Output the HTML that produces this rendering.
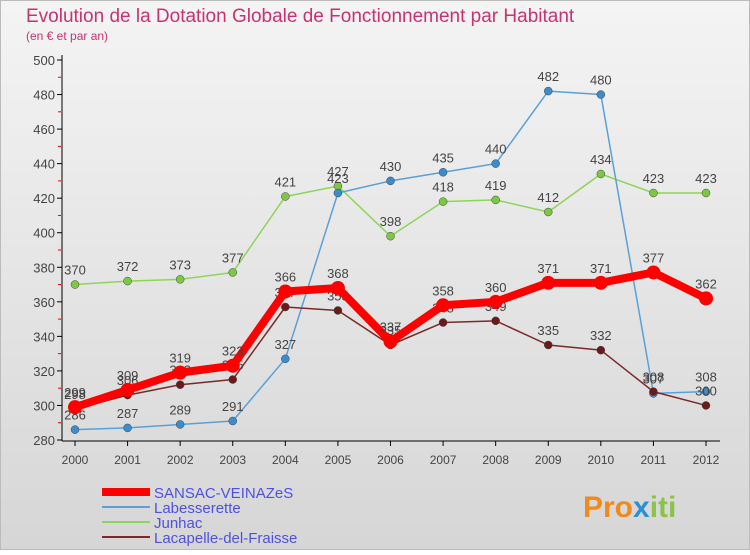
<!DOCTYPE html>
<html><head><meta charset="utf-8"><style>
body{margin:0;width:750px;height:550px;overflow:hidden;font-family:"Liberation Sans",sans-serif}
</style></head><body>
<svg width="750" height="550" xmlns="http://www.w3.org/2000/svg">
<defs><linearGradient id="bg" x1="0" y1="0" x2="0" y2="1"><stop offset="0" stop-color="#f4f4f4"/><stop offset="1" stop-color="#d6d6d6"/></linearGradient></defs>
<rect x="0.5" y="0.5" width="749" height="549" fill="url(#bg)" stroke="#bbb"/>
<text x="26" y="22" font-size="19" fill="#c8336e">Evolution de la Dotation Globale de Fonctionnement par Habitant</text>
<text x="26" y="40" font-size="12" fill="#c8336e">(en € et par an)</text>
<g id="axes"></g><g id="series"></g><g id="legend"></g>
<text x="583" y="517" font-size="30" font-weight="bold" fill="#f08a1c">Pro<tspan fill="#2a8fd6">x</tspan><tspan fill="#8bc34a">iti</tspan></text>
</svg>
<script>
const years=[2000,2001,2002,2003,2004,2005,2006,2007,2008,2009,2010,2011,2012];
const sansac=[299,309,319,323,366,368,337,358,360,371,371,377,362];
const labesserette=[286,287,289,291,327,423,430,435,440,482,480,307,308];
const junhac=[370,372,373,377,421,427,398,418,419,412,434,423,423];
const lacapelle=[298,306,312,315,357,355,335,348,349,335,332,308,300];
const yTicks=[280,300,320,340,360,380,400,420,440,460,480,500];
const NS='http://www.w3.org/2000/svg';
const x=i=>75+i*(706-75)/12;
const y=v=>440-(v-280)*380/220;
function mk(t,a,p){const e=document.createElementNS(NS,t);for(const k in a)e.setAttribute(k,a[k]);p.appendChild(e);return e;}
const ax=document.getElementById('axes');
let l=mk('line',{x1:62,y1:55,x2:62,y2:441,stroke:'#000'},ax);


l=mk('line',{x1:62,y1:441,x2:720,y2:441,stroke:'#000'},ax);


yTicks.forEach((v,i)=>{
  mk('line',{x1:57,y1:y(v),x2:62,y2:y(v),stroke:'#000'},ax);
  if(i<yTicks.length-1) mk('line',{x1:58,y1:y(v+10),x2:61,y2:y(v+10),stroke:'#e00'},ax);
  const t=mk('text',{x:55,y:y(v)+5,'text-anchor':'end','font-size':13,fill:'#444'},ax);t.textContent=v;
  
  
});
years.forEach((yr,i)=>{
  mk('line',{x1:x(i),y1:441,x2:x(i),y2:446,stroke:'#000'},ax);
  const t=mk('text',{x:x(i),y:464,'text-anchor':'middle','font-size':12,fill:'#444'},ax);t.textContent=yr;
  
  
});
const sg=document.getElementById('series');
const defs=[
 {name:'junhac',d:junhac,c:'#8fd45a',f:'#7cc843',w:1.5,r:4},
 {name:'labesserette',d:labesserette,c:'#5aa0d8',f:'#3a8ccc',w:1.5,r:4},
 {name:'lacapelle',d:lacapelle,c:'#7a2a2a',f:'#6b1a1a',w:1.5,r:4},
 {name:'sansac',d:sansac,c:'#f00',f:'#f00',w:8,r:7}];
defs.forEach(s=>{
  const g=mk('g',{},sg);
  
  
  mk('polyline',{points:s.d.map((v,i)=>x(i)+','+y(v)).join(' '),fill:'none',stroke:s.c,'stroke-width':s.w,'stroke-linejoin':'round'},g);
  s.d.forEach((v,i)=>{
    const c=mk('circle',{cx:x(i),cy:y(v),r:s.r,fill:s.f,stroke:s.name==='sansac'?'none':'#444','stroke-width':0.5},g);
    
    
    const t=mk('text',{x:x(i),y:y(v)-10,'text-anchor':'middle','font-size':13,fill:'#444'},g);t.textContent=v;
    
    
  });
});
const lg=document.getElementById('legend');
[['SANSAC-VEINAZeS','#f00',8],['Labesserette','#5aa0d8',2],['Junhac','#8fd45a',2],['Lacapelle-del-Fraisse','#7a2a2a',2]].forEach((e,i)=>{
  const yy=492+i*15;
  const g=mk('g',{},lg);
  
  
  mk('line',{x1:102,y1:yy,x2:150,y2:yy,stroke:e[1],'stroke-width':e[2]},g);
  const t=mk('text',{x:154,y:yy+6,'font-size':15,fill:'#5050e0'},g);t.textContent=e[0];
});
</script>
</body></html>
